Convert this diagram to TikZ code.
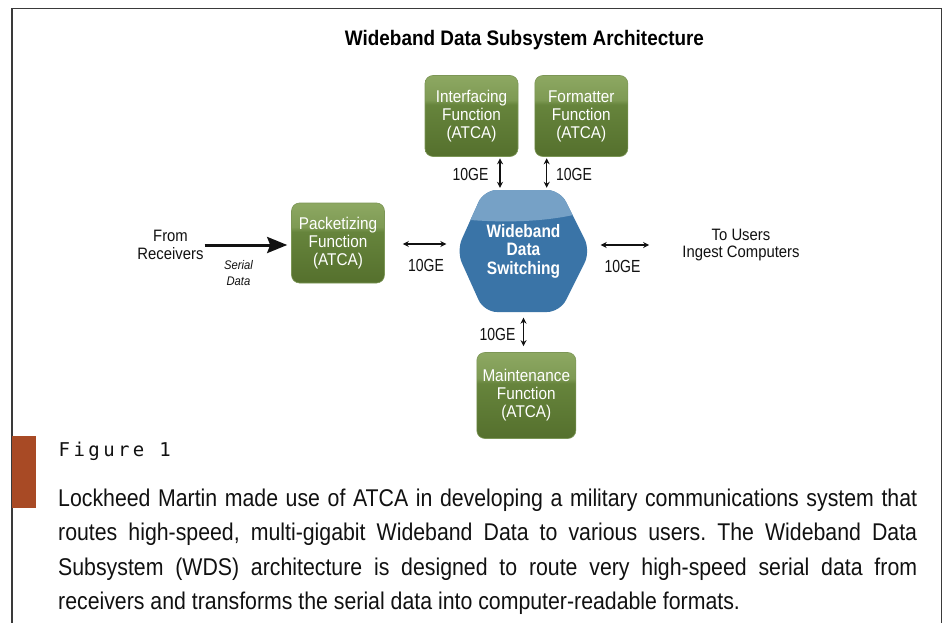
\documentclass[tikz,border=0pt]{standalone}
\usepackage{fontspec}
\setmainfont{Liberation Sans}
\newfontfamily\boxfont{Liberation Sans}[FakeStretch=0.9]
\newfontfamily\gefont{Liberation Sans}[FakeStretch=0.8]
\newfontfamily\titlefont{Liberation Sans}[FakeStretch=0.9]
\newfontfamily\hexfont{Liberation Sans}[FakeStretch=0.86]
\newfontfamily\bodyfont{Liberation Sans}[FakeStretch=0.88]
\newfontfamily\figmono{DejaVu Sans Mono}[LetterSpace=18]
\usetikzlibrary{arrows.meta,calc}
\definecolor{frameC}{HTML}{3A3A3A}
\definecolor{barC}{HTML}{A84A25}
\definecolor{gL}{HTML}{8DA862}
\definecolor{gLb}{HTML}{7E9A54}
\definecolor{gM}{HTML}{66843C}
\definecolor{gD}{HTML}{55702D}
\definecolor{gEdge}{HTML}{7C9656}
\definecolor{hexD}{HTML}{3A74A7}
\definecolor{hexL}{HTML}{76A1C6}
\definecolor{txt}{HTML}{111111}
\pgfdeclareverticalshading{greenshade}{100bp}{color(0bp)=(gD); color(25bp)=(gD); color(57bp)=(gM); color(60bp)=(gLb); color(75bp)=(gL); color(100bp)=(gL)}
\begin{document}
\frenchspacing
\begin{tikzpicture}[x=1pt,y=-1pt,
  fnbox/.style={rectangle, rounded corners=8pt, shading=greenshade, draw=gEdge, line width=0.6pt,
    minimum width=93pt, minimum height=81pt, inner sep=0pt, text=white, align=center,
    font=\boxfont\fontsize{17}{18}\selectfont},
  lbl/.style={text=txt, align=center, inner sep=0pt, font=\boxfont\fontsize{16.5}{17.5}\selectfont},
  gelbl/.style={text=txt, inner sep=0pt, font=\gefont\fontsize{17.5}{18}\selectfont},
  bi/.style={txt, line width=1.1pt, {Stealth[length=6pt,width=6pt]}-{Stealth[length=6pt,width=6pt]}},
  thick arrow/.style={txt, line width=3pt, -{Stealth[length=20pt,width=16pt,inset=3pt]}},
  bodyline/.style={anchor=base west, inner sep=0pt, text=txt, font=\bodyfont\fontsize{24.2}{26}\selectfont}
]
\useasboundingbox (0,0) rectangle (945,623);
\fill[white] (0,0) rectangle (945,623);
% frame
\draw[frameC, line width=1.4pt] (12,640) -- (12,8.5) -- (941.5,8.5) -- (941.5,640);
% title
\node[inner sep=0pt, anchor=base, text=black, font=\titlefont\bfseries\fontsize{21}{22}\selectfont] (title) at (524.5,46) {Wideband Data Subsystem Architecture};

% function boxes
\node[fnbox] (intf) at (471.5,116) {Interfacing\\Function\\(ATCA)};
\node[fnbox] (fmt) at (581.3,116) {Formatter\\Function\\(ATCA)};
\node[fnbox, minimum height=80pt] (pack) at (338,243) {Packetizing\\Function\\(ATCA)};
\node[fnbox, minimum width=99pt, minimum height=86pt] (maint) at (526.3,395.5) {Maintenance\\Function\\(ATCA)};

% hexagon switch
\begin{scope}
  \path[clip, rounded corners=13pt] (484,190) -- (560,190) -- (590.5,251) -- (560,312) -- (484,312) -- (456.5,251) -- cycle;
  \fill[hexD] (450,185) rectangle (600,320);
  \fill[hexL] (450,185) -- (600,185) -- (600,207) .. controls (560,223) and (500,224) .. (450,218) -- cycle;
\end{scope}
\node[minimum width=134pt, minimum height=122pt, inner sep=0pt, text=white, align=center,
  font=\hexfont\bfseries\fontsize{18}{18.5}\selectfont] (wds) at (523.5,251) {Wideband\\Data\\Switching};

% left side
\node[lbl] (recv) at (170.5,245) {From\\Receivers};
\draw[thick arrow] ($(recv.east)+(1,0)$) -- ($(recv.east -| pack.west)+(-4,0)$);
\node[text=txt, align=center, inner sep=0pt, font=\boxfont\itshape\fontsize{12.5}{16}\selectfont] (serial) at (238.5,273.5) {Serial\\Data};

% right side
\node[lbl] (users) at (741,245) {To Users\\Ingest Computers};

% 10GE connectors
\draw[bi] ($(pack.east)+(18,1)$) coordinate (l1) -- ($(l1 -| wds.west)+(-10,0)$);
\node[gelbl] (ge1) at (426,265) {10GE};
\draw[bi] ($(wds.east |- users)+(10,0)$) -- ($(users.west)+(-33,0)$);
\node[gelbl] (ge2) at (622.5,266) {10GE};
\draw[bi] ($(intf.south)+(28.5,1.5)$) coordinate (t1) -- ($(t1 |- wds.north)+(0,-2)$);
\node[gelbl] (ge3) at (470.5,174) {10GE};
\draw[bi] ($(fmt.south)+(-34.6,1.5)$) coordinate (t2) -- ($(t2 |- wds.north)+(0,-2)$);
\node[gelbl] (ge4) at (574,174) {10GE};
\draw[bi] ($(wds.south)+(0,5.5)$) -- ($(wds.south |- maint.north)+(0,-6)$);
\node[gelbl] (ge5) at (497.5,334) {10GE};

% caption
\fill[barC] (12,436) rectangle (36,508);
\node[anchor=base west, inner sep=0pt, text=txt, font=\figmono\fontsize{19}{20}\selectfont] (fig) at (58.5,456.7) {Figure 1};
\node[bodyline] (c1) at (58,506) {\makebox[859pt][s]{Lockheed Martin made use of ATCA in developing a military communications system that}};
\node[bodyline] (c2) at (58,540.5) {\makebox[859pt][s]{routes high-speed, multi-gigabit Wideband Data to various users. The Wideband Data}};
\node[bodyline] (c3) at (58,575) {\makebox[859pt][s]{Subsystem (WDS) architecture is designed to route very high-speed serial data from}};
\node[bodyline] (c4) at (58,609.5) {receivers and transforms the serial data into computer-readable formats.};
\end{tikzpicture}
\end{document}
